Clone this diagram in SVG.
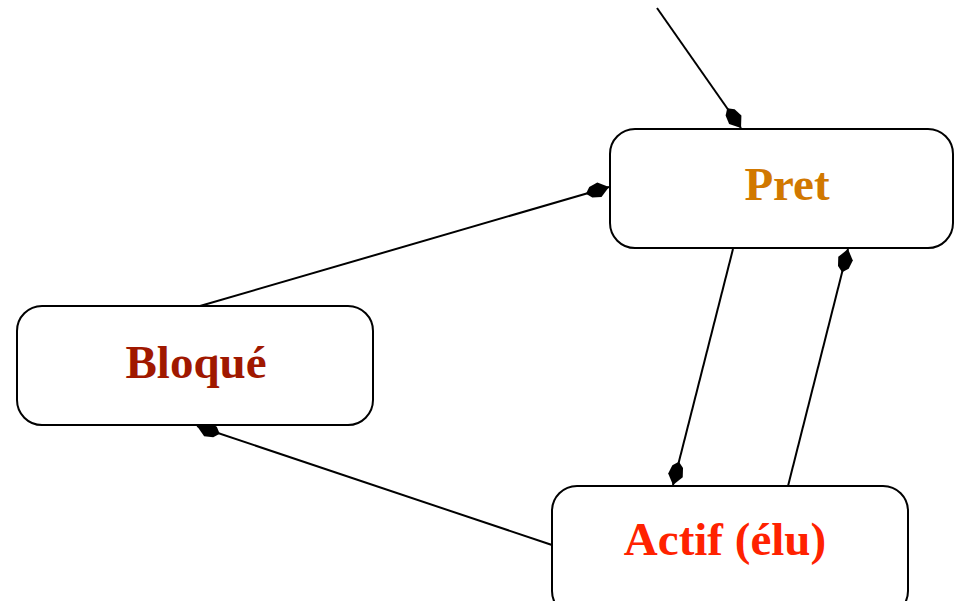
<svg xmlns="http://www.w3.org/2000/svg" width="954" height="601" viewBox="0 0 954 601">
<style>
.box{fill:#fff;stroke:#000;stroke-width:2}
.lbl{font-family:"Liberation Serif","Times New Roman",serif;font-weight:bold;font-size:47px;text-anchor:middle}
.edge{stroke:#000;stroke-width:2;fill:none;marker-end:url(#ah)}
</style>
<defs>
<marker id="ah" markerUnits="userSpaceOnUse" viewBox="-26 -9 28 18" refX="0" refY="0" markerWidth="28" markerHeight="18" orient="auto">
<path d="M0,0 L-10,-7.5 L-19,-5.5 L-24,0 L-19,5.5 L-10,7.5 Z" fill="#000"/>
</marker>
</defs>
<g id="connectors">
<line class="edge" x1="657" y1="8" x2="741" y2="128"/>
<line class="edge" x1="200" y1="306" x2="609" y2="187"/>
<line class="edge" x1="733" y1="249" x2="673" y2="485"/>
<line class="edge" x1="788" y1="486" x2="848" y2="249"/>
<line class="edge" x1="552" y1="545" x2="197" y2="426"/>
</g>
<g id="pret">
<rect class="box" x="610" y="129" width="343" height="119" rx="25" ry="25"/>
<text class="lbl" x="787" y="200" fill="#d17800">Pret</text>
</g>
<g id="bloque">
<rect class="box" x="17" y="306" width="356" height="119" rx="25" ry="25"/>
<text class="lbl" x="196" y="378" fill="#a01800">Bloqué</text>
</g>
<g id="actif">
<rect class="box" x="552" y="486" width="356" height="130" rx="25" ry="25"/>
<text class="lbl" x="725" y="555" fill="#ff2200">Actif (élu)</text>
</g>
</svg>
